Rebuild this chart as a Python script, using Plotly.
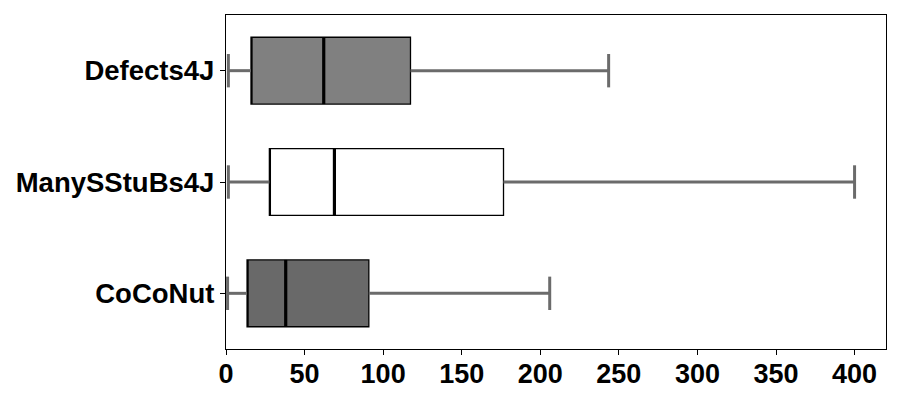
import plotly.graph_objects as go

categories = ["CoCoNut", "ManySStuBs4J", "Defects4J"]
positions = [1, 2, 3]
whisker_low = [1, 1.5, 1.5]
q1 = [13.4, 27.6, 15.9]
median = [38, 69, 62.2]
q3 = [90.9, 176.6, 117.4]
whisker_high = [206, 400, 243.5]
fills = ["#696969", "#ffffff", "#808080"]

box_w = 0.6
cap_h = 0.3
wcol = "#6b6b6b"

fig = go.Figure()

for i in range(3):
    p = positions[i]
    fig.add_trace(go.Scatter(x=[whisker_low[i], q1[i]], y=[p, p], mode="lines",
                             line=dict(color=wcol, width=3), hoverinfo="skip", showlegend=False))
    fig.add_trace(go.Scatter(x=[q3[i], whisker_high[i]], y=[p, p], mode="lines",
                             line=dict(color=wcol, width=3), hoverinfo="skip", showlegend=False))
    for xv in (whisker_low[i], whisker_high[i]):
        fig.add_trace(go.Scatter(x=[xv, xv], y=[p - cap_h / 2, p + cap_h / 2], mode="lines",
                                 line=dict(color=wcol, width=3), hoverinfo="skip", showlegend=False))
    fig.add_trace(go.Box(y=[p], q1=[q1[i]], median=[q1[i]], q3=[q3[i]],
                         lowerfence=[q1[i]], upperfence=[q3[i]], orientation="h",
                         width=box_w, fillcolor=fills[i], line=dict(color="black", width=1.3),
                         whiskerwidth=0, boxpoints=False, showlegend=False, name=categories[i]))
    fig.add_trace(go.Scatter(x=[median[i], median[i]], y=[p - box_w / 2, p + box_w / 2], mode="lines",
                             line=dict(color="black", width=3.2), hoverinfo="skip", showlegend=False))

fam = "Liberation Sans, Arial, sans-serif"

fig.update_layout(
    width=900, height=400,
    margin=dict(l=226, r=14, t=15, b=51, autoexpand=False),
    plot_bgcolor="white", paper_bgcolor="white",
    font=dict(family=fam, size=27, color="black"),
)
fig.update_xaxes(range=[0, 420], tickvals=[0, 50, 100, 150, 200, 250, 300, 350, 400],
                 ticks="outside", ticklen=5, tickwidth=1, tickcolor="black",
                 showline=True, linecolor="black", linewidth=1.2, mirror=True,
                 showgrid=False, zeroline=False, automargin=False, ticklabelstandoff=-5,
                 tickfont=dict(family=fam, size=27, color="black", weight="bold"))
fig.update_yaxes(range=[0.5, 3.5], tickvals=positions, ticktext=categories,
                 ticks="outside", ticklen=5, tickwidth=1, tickcolor="black",
                 showline=True, linecolor="black", linewidth=1.2, mirror=True,
                 showgrid=False, zeroline=False, automargin=False,
                 tickfont=dict(family=fam, size=27.5, color="black", weight="bold"))

fig.write_html("out.html", post_script="document.body.style.margin='0px';",
               config={"displayModeBar": False})
